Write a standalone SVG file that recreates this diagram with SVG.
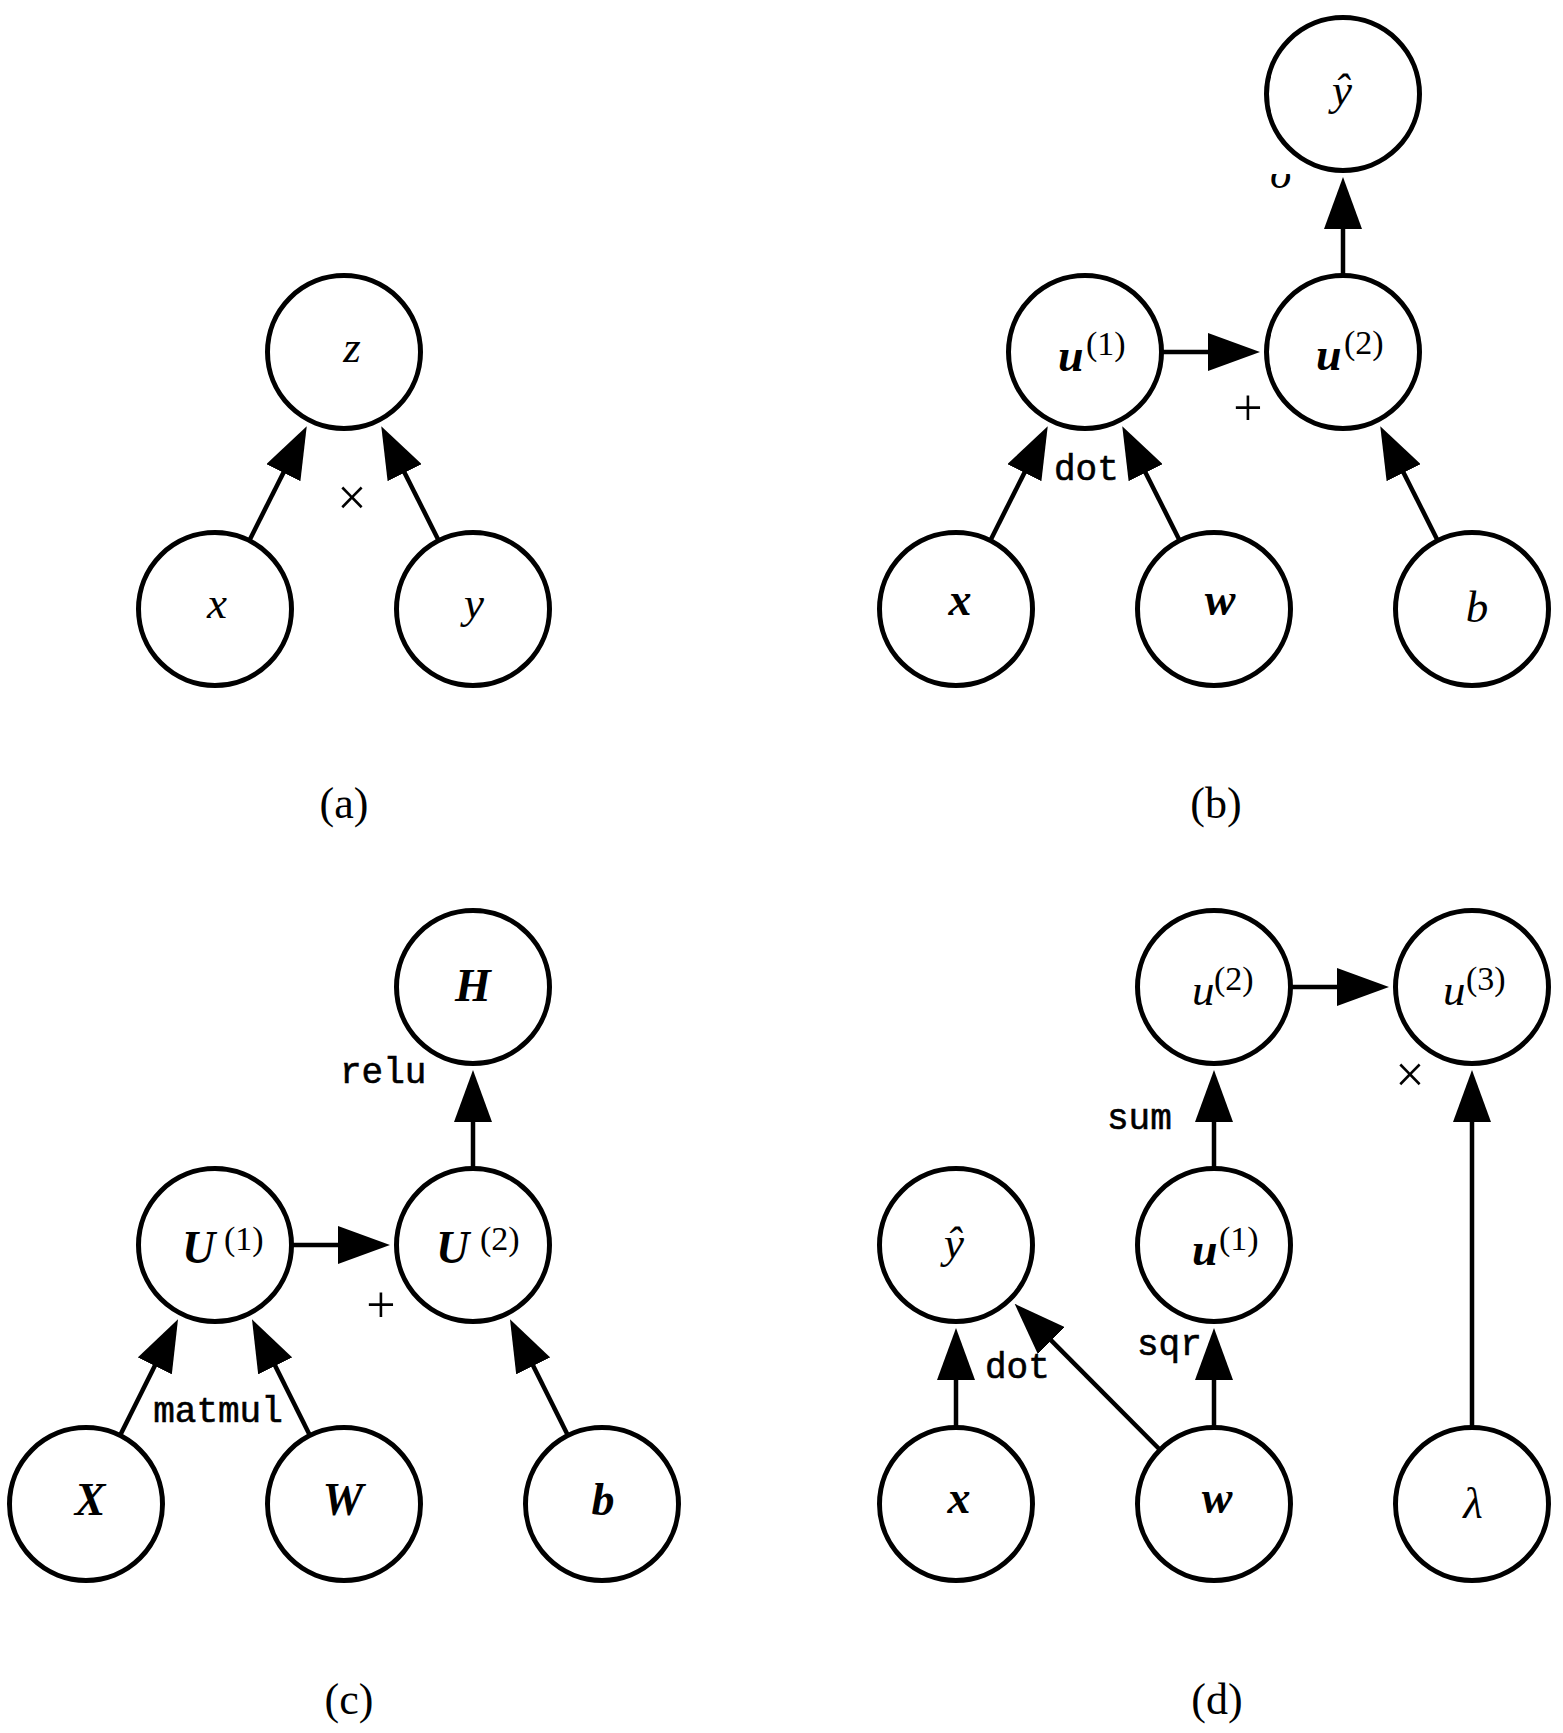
<svg xmlns="http://www.w3.org/2000/svg" width="1563" height="1733" viewBox="0 0 1563 1733">
<style>
.node{fill:#fff;stroke:#000;stroke-width:5}
.edge{stroke:#000;stroke-width:4.5;fill:none}
.m{font-family:"Liberation Serif","DejaVu Serif",serif;font-style:italic;font-size:45px;fill:#000}
.mb{font-family:"Liberation Serif","DejaVu Serif",serif;font-style:italic;font-weight:bold;font-size:46px;fill:#000}
.sup{font-family:"Liberation Serif","DejaVu Serif",serif;font-size:34px;fill:#000}
.op{font-family:"Liberation Serif","DejaVu Serif",serif;font-size:52px;fill:#000}
.tt{font-family:"Liberation Mono","DejaVu Sans Mono",monospace;font-size:36px;fill:#000;stroke:#000;stroke-width:0.6}
.cap{font-family:"Liberation Serif","DejaVu Serif",serif;font-size:44px;fill:#000;text-anchor:middle}
.c{text-anchor:middle}
</style>
<defs>
<marker id="ah" markerUnits="userSpaceOnUse" viewBox="0 -19 52 38" markerWidth="52" markerHeight="38" refX="2" refY="0" orient="auto">
<path d="M0,-19 L52,0 L0,19 z" fill="#000"/>
</marker>
<clipPath id="sigclip"><rect x="1250" y="174" width="60" height="30"/></clipPath>
</defs>
<rect width="1563" height="1733" fill="#fff"/>

<g id="connectors" class="edge">
<line x1="249.5" y1="540.2" x2="284.3" y2="470.9" marker-end="url(#ah)"/>
<line x1="438.5" y1="540.2" x2="403.7" y2="470.9" marker-end="url(#ah)"/>
<line x1="990.5" y1="540.2" x2="1025.3" y2="470.9" marker-end="url(#ah)"/>
<line x1="1179.5" y1="540.2" x2="1144.7" y2="470.9" marker-end="url(#ah)"/>
<line x1="1162" y1="352" x2="1210" y2="352" marker-end="url(#ah)"/>
<line x1="1437.5" y1="540.2" x2="1402.7" y2="470.9" marker-end="url(#ah)"/>
<line x1="1343" y1="275" x2="1343" y2="227" marker-end="url(#ah)"/>
<line x1="120.3" y1="1435.1" x2="155.7" y2="1364.1" marker-end="url(#ah)"/>
<line x1="309.7" y1="1435.1" x2="274.3" y2="1364.1" marker-end="url(#ah)"/>
<line x1="292" y1="1245" x2="340" y2="1245" marker-end="url(#ah)"/>
<line x1="567.7" y1="1435.1" x2="532.3" y2="1364.1" marker-end="url(#ah)"/>
<line x1="473" y1="1168" x2="473" y2="1120" marker-end="url(#ah)"/>
<line x1="956" y1="1427" x2="956" y2="1378" marker-end="url(#ah)"/>
<line x1="1159.7" y1="1449.5" x2="1049.9" y2="1339.2" marker-end="url(#ah)"/>
<line x1="1214" y1="1427" x2="1214" y2="1378" marker-end="url(#ah)"/>
<line x1="1214" y1="1168" x2="1214" y2="1120" marker-end="url(#ah)"/>
<line x1="1291" y1="987" x2="1339" y2="987" marker-end="url(#ah)"/>
<line x1="1472" y1="1427" x2="1472" y2="1120" marker-end="url(#ah)"/>
</g>

<!-- (a) -->
<g id="a_z"><circle class="node" cx="344" cy="352" r="76.5"/><text class="m c" x="352" y="362">z</text></g>
<g id="a_x"><circle class="node" cx="215" cy="609" r="76.5"/><text class="m c" x="217" y="618">x</text></g>
<g id="a_y"><circle class="node" cx="473" cy="609" r="76.5"/><text class="m c" x="474" y="618">y</text></g>

<!-- (b) -->
<g id="b_yhat"><circle class="node" cx="1343" cy="94" r="76.5"/><text class="m c" x="1342" y="105">ŷ</text></g>
<g id="b_u1"><circle class="node" cx="1085" cy="352" r="76.5"/><text class="mb" x="1058" y="371">u</text><text class="sup" x="1086" y="355">(1)</text></g>
<g id="b_u2"><circle class="node" cx="1343" cy="352" r="76.5"/><text class="mb" x="1316" y="370">u</text><text class="sup" x="1344" y="354">(2)</text></g>
<g id="b_x"><circle class="node" cx="956" cy="609" r="76.5"/><text class="mb c" x="960" y="615">x</text></g>
<g id="b_w"><circle class="node" cx="1214" cy="609" r="76.5"/><text class="mb c" x="1220" y="615">w</text></g>
<g id="b_b"><circle class="node" cx="1472" cy="609" r="76.5"/><text class="m c" x="1477" y="622">b</text></g>

<!-- (c) -->
<g id="c_H"><circle class="node" cx="473" cy="987" r="76.5"/><text class="mb c" x="473" y="1001">H</text></g>
<g id="c_U1"><circle class="node" cx="215" cy="1245" r="76.5"/><text class="mb" x="182" y="1263">U</text><text class="sup" x="224" y="1250">(1)</text></g>
<g id="c_U2"><circle class="node" cx="473" cy="1245" r="76.5"/><text class="mb" x="436" y="1263">U</text><text class="sup" x="480" y="1250">(2)</text></g>
<g id="c_X"><circle class="node" cx="86" cy="1504" r="76.5"/><text class="mb c" x="90" y="1515">X</text></g>
<g id="c_W"><circle class="node" cx="344" cy="1504" r="76.5"/><text class="mb c" x="343" y="1515">W</text></g>
<g id="c_b"><circle class="node" cx="602" cy="1504" r="76.5"/><text class="mb c" x="603" y="1515">b</text></g>

<!-- (d) -->
<g id="d_u2"><circle class="node" cx="1214" cy="987" r="76.5"/><text class="m" x="1192" y="1005">u</text><text class="sup" x="1214" y="990">(2)</text></g>
<g id="d_u3"><circle class="node" cx="1472" cy="987" r="76.5"/><text class="m" x="1443" y="1005">u</text><text class="sup" x="1466" y="990">(3)</text></g>
<g id="d_yhat"><circle class="node" cx="956" cy="1245" r="76.5"/><text class="m c" x="954" y="1258">ŷ</text></g>
<g id="d_u1"><circle class="node" cx="1214" cy="1245" r="76.5"/><text class="mb" x="1192" y="1265">u</text><text class="sup" x="1219" y="1250">(1)</text></g>
<g id="d_x"><circle class="node" cx="956" cy="1504" r="76.5"/><text class="mb c" x="959" y="1513">x</text></g>
<g id="d_w"><circle class="node" cx="1214" cy="1504" r="76.5"/><text class="mb c" x="1217" y="1513">w</text></g>
<g id="d_lambda"><circle class="node" cx="1472" cy="1504" r="76.5"/><text class="m c" x="1473" y="1518">λ</text></g>

<g id="labels">
<text class="op c" x="352" y="515">×</text>
<text class="tt" x="1054" y="480">dot</text>
<text class="op c" x="1248" y="425">+</text>
<text class="m c" x="1281" y="188" clip-path="url(#sigclip)">σ</text>
<text class="tt" x="340" y="1083">relu</text>
<text class="op c" x="381" y="1322">+</text>
<text class="tt c" x="218" y="1422">matmul</text>
<text class="op c" x="1410" y="1092">×</text>
<text class="tt" x="1107" y="1129">sum</text>
<text class="tt" x="1137" y="1355">sqr</text>
<text class="tt" x="985" y="1378">dot</text>
</g>

<g id="captions">
<text class="cap" x="344" y="818">(a)</text>
<text class="cap" x="1216" y="818">(b)</text>
<text class="cap" x="349" y="1714">(c)</text>
<text class="cap" x="1217" y="1714">(d)</text>
</g>
</svg>
